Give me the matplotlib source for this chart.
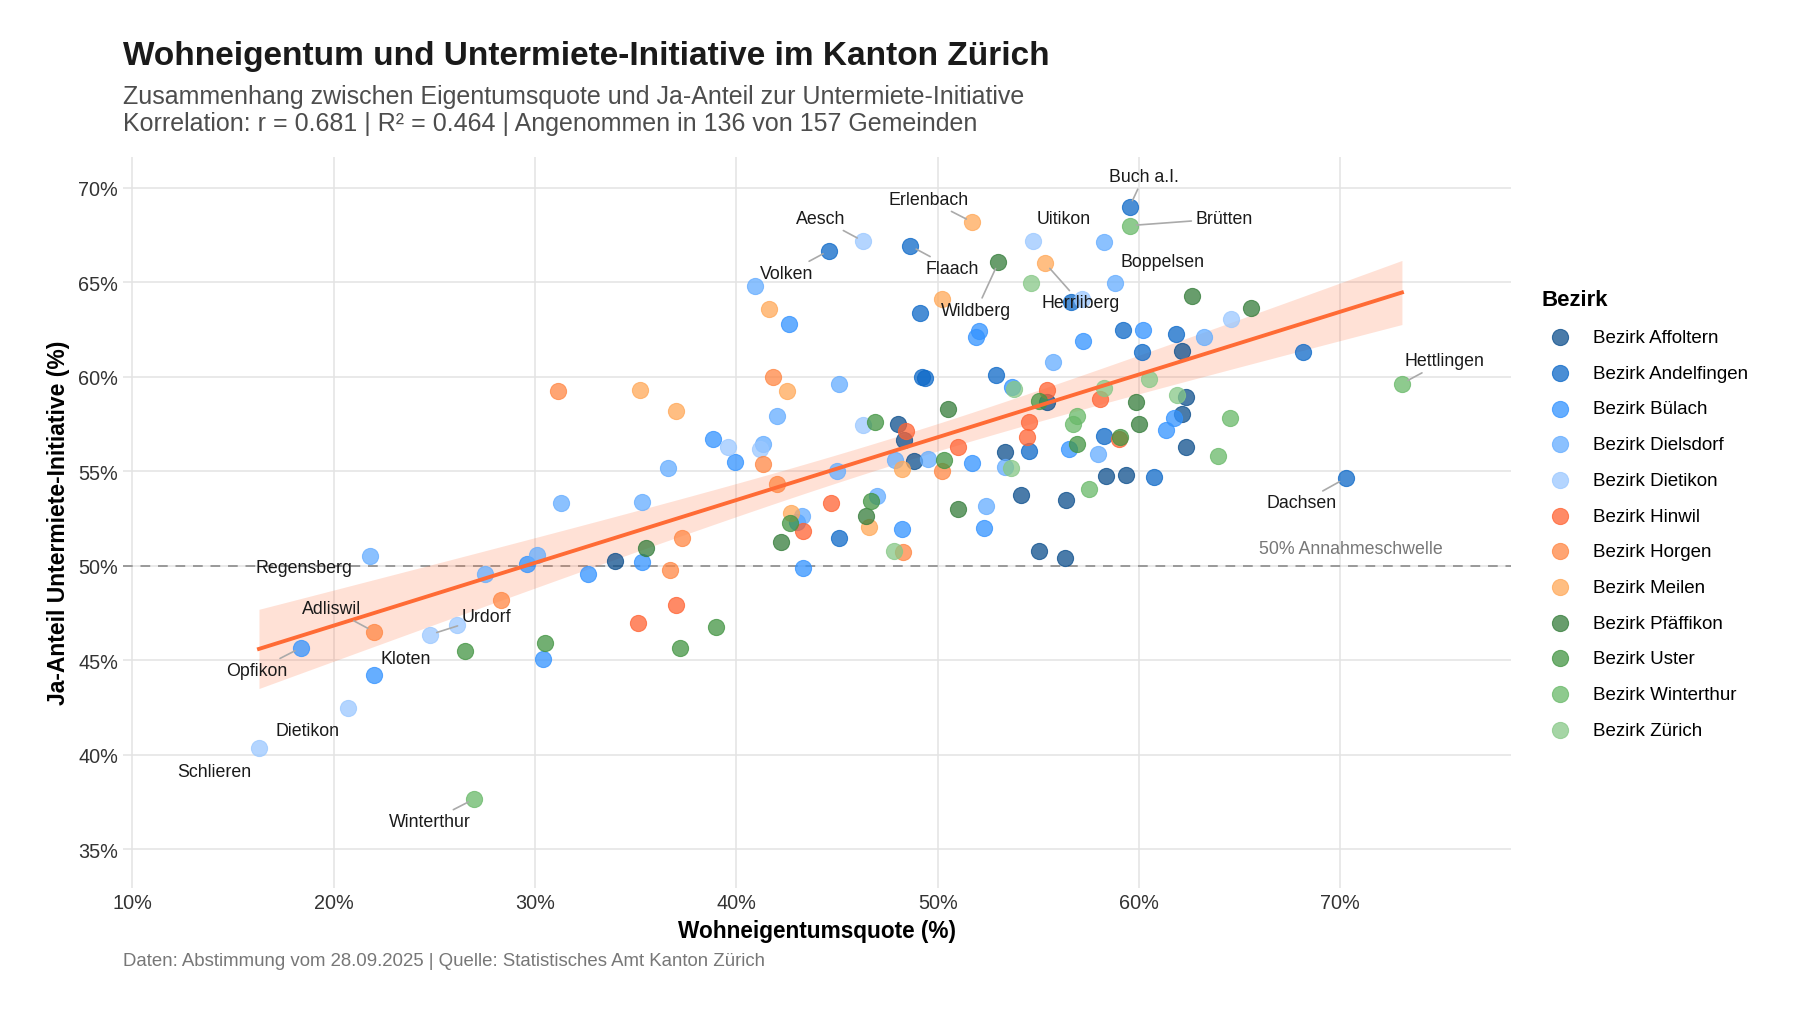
import numpy as np
import matplotlib
matplotlib.use("Agg")
import matplotlib.pyplot as plt

plt.rcParams['font.family'] = ['Liberation Sans', 'DejaVu Sans']

# Bezirke und Farben
bezirke = ["Bezirk Affoltern", "Bezirk Andelfingen", "Bezirk Bülach", "Bezirk Dielsdorf",
           "Bezirk Dietikon", "Bezirk Hinwil", "Bezirk Horgen", "Bezirk Meilen",
           "Bezirk Pfäffikon", "Bezirk Uster", "Bezirk Winterthur", "Bezirk Zürich"]
farben = ["#0D4F8D", "#0D69C8", "#3393FF", "#65ADFF", "#9BC8FF", "#FF6333",
          "#FF8744", "#FFA858", "#357D3B", "#439543", "#69B969", "#87C887"]

# Gemeinden ohne Beschriftung: Eigentumsquote (%), Ja-Anteil (%)
affoltern_x = [33.98, 48.02, 48.34, 48.80, 53.32, 54.13, 55.03, 56.33, 55.42, 56.38, 58.34, 59.33, 62.15, 62.34, 62.15, 62.34]
affoltern_y = [50.26, 57.48, 56.67, 55.56, 56.03, 53.74, 50.76, 50.41, 58.65, 53.49, 54.73, 54.80, 61.33, 58.94, 58.03, 56.30]
andelfingen_x = [49.13, 49.20, 49.35, 52.92, 54.53, 45.12, 56.62, 59.23, 61.85, 60.14, 68.14, 58.24, 60.76]
andelfingen_y = [63.37, 60.00, 59.95, 60.11, 56.08, 51.47, 63.94, 62.49, 62.26, 61.31, 61.31, 56.88, 54.68]
buelach_x = [42.62, 52.03, 51.91, 53.70, 38.83, 39.93, 51.73, 43.00, 43.32, 48.22, 52.32, 35.30, 32.62, 30.40, 60.22, 57.24, 61.72, 61.32, 56.53, 29.59]
buelach_y = [62.80, 62.42, 62.10, 59.46, 56.70, 55.50, 55.43, 52.30, 49.88, 51.94, 51.99, 50.18, 49.56, 45.05, 62.49, 61.87, 57.80, 57.18, 56.17, 50.09]
dielsdorf_x = [40.92, 45.12, 42.01, 41.30, 36.61, 35.29, 45.02, 47.90, 49.54, 53.35, 52.41, 47.01, 43.25, 31.30, 27.52, 30.09, 63.24, 57.94, 58.24, 55.72]
dielsdorf_y = [64.78, 59.63, 57.92, 56.42, 55.15, 53.35, 55.03, 55.61, 55.65, 55.24, 53.17, 53.70, 52.65, 53.32, 49.56, 50.57, 62.08, 55.91, 67.11, 60.76]
dietikon_x = [39.61, 41.18, 46.31, 57.16, 64.55, 26.11]
dietikon_y = [56.28, 56.17, 57.46, 64.11, 63.07, 46.86]
hinwil_x = [48.42, 51.03, 54.55, 54.45, 55.42, 58.04, 44.72, 43.30, 37.00, 35.11, 59.00]
hinwil_y = [57.13, 56.26, 57.59, 56.79, 59.31, 58.82, 53.30, 51.84, 47.92, 46.95, 56.70]
horgen_x = [31.16, 41.81, 41.32, 42.01, 37.31, 36.71, 28.30, 48.30, 50.24]
horgen_y = [59.26, 59.97, 55.37, 54.32, 51.46, 49.77, 48.20, 50.74, 55.01]
meilen_x = [35.22, 37.01, 42.51, 41.61, 50.24, 48.22, 42.70, 46.61]
meilen_y = [59.31, 58.19, 59.26, 63.58, 64.10, 55.12, 52.80, 52.03]
pfaeffikon_x = [50.52, 51.02, 42.21, 46.43, 35.50, 62.64, 65.54, 59.83, 60.02]
pfaeffikon_y = [58.31, 53.00, 51.27, 52.61, 50.94, 64.27, 63.62, 58.64, 57.50]
uster_x = [46.91, 50.32, 46.68, 42.67, 39.01, 37.21, 26.51, 30.50, 55.01, 56.91, 59.05]
uster_y = [57.62, 55.61, 53.44, 52.26, 46.74, 45.63, 45.49, 45.89, 58.73, 56.42, 56.80]
winterthur_x = [56.91, 56.72, 64.53, 63.93, 57.54]
winterthur_y = [57.90, 57.48, 57.80, 55.82, 54.06]
zuerich_x = [54.63, 53.77, 53.64, 47.82, 61.91, 60.52, 58.24]
zuerich_y = [64.96, 59.35, 55.15, 50.78, 59.05, 59.88, 59.40]

# Beschriftete Gemeinden
label_namen = ["Buch a.I.", "Brütten", "Erlenbach", "Aesch", "Uitikon", "Flaach", "Volken",
               "Wildberg", "Herrliberg", "Boppelsen", "Hettlingen", "Dachsen", "Regensberg",
               "Adliswil", "Urdorf", "Opfikon", "Kloten", "Dietikon", "Schlieren", "Winterthur"]
label_bezirk = [1, 10, 7, 4, 4, 1, 1, 8, 7, 3, 10, 1, 3, 6, 4, 2, 2, 4, 4, 10]
label_x = [59.53, 59.53, 51.73, 46.31, 54.73, 48.63, 44.61, 53.02, 55.34, 58.83, 73.06, 70.26,
           21.82, 22.00, 24.79, 18.38, 22.00, 20.70, 16.29, 26.99]
label_y = [68.98, 67.99, 68.17, 67.16, 67.16, 66.92, 66.67, 66.05, 66.00, 64.97, 59.63, 54.62,
           50.53, 46.51, 46.35, 45.66, 44.22, 42.47, 40.36, 37.66]
# Position der Beschriftung relativ zum Punkt
label_dx = [0.7, 4.7, -2.2, -2.1, 1.55, 2.1, -2.1, -1.1, 1.75, 2.35, 2.1, -2.2,
            -3.3, -2.1, 2.8, -2.2, 1.6, -2.0, -2.2, -2.2]
label_dy = [1.6, 0.37, 1.2, 1.2, 1.2, -1.2, -1.2, -2.55, -2.1, 1.1, 1.2, -1.3,
            -0.65, 1.2, 0.95, -1.2, 0.85, -1.2, -1.25, -1.2]
label_linie = [True, True, True, True, False, True, True, True, True, False, True, True,
               False, True, True, True, False, False, False, True]

punkte_x = [affoltern_x, andelfingen_x, buelach_x, dielsdorf_x, dietikon_x, hinwil_x,
            horgen_x, meilen_x, pfaeffikon_x, uster_x, winterthur_x, zuerich_x]
punkte_y = [affoltern_y, andelfingen_y, buelach_y, dielsdorf_y, dietikon_y, hinwil_y,
            horgen_y, meilen_y, pfaeffikon_y, uster_y, winterthur_y, zuerich_y]

fig = plt.figure(figsize=(18, 10.12), dpi=100)
ax = fig.add_axes([0.0686, 0.122, 0.7711, 0.7219])

# Punkte pro Bezirk
for i, name in enumerate(bezirke):
    xs = list(punkte_x[i]) + [label_x[k] for k in range(len(label_x)) if label_bezirk[k] == i]
    ys = list(punkte_y[i]) + [label_y[k] for k in range(len(label_y)) if label_bezirk[k] == i]
    ax.scatter(xs, ys, s=135, color=farben[i], alpha=0.75, edgecolors=farben[i],
               linewidths=0.8, zorder=4, label=name)

# Regressionsgerade mit 95%-Band
alle_x = np.array(sum([list(v) for v in punkte_x], []) + label_x)
alle_y = np.array(sum([list(v) for v in punkte_y], []) + label_y)
n = len(alle_x)
b, a = np.polyfit(alle_x, alle_y, 1)
xx = np.linspace(alle_x.min(), alle_x.max(), 200)
yy = a + b * xx
resid = alle_y - (a + b * alle_x)
s = np.sqrt(np.sum(resid ** 2) / (n - 2))
se = s * np.sqrt(1 / n + (xx - alle_x.mean()) ** 2 / np.sum((alle_x - alle_x.mean()) ** 2))
ax.fill_between(xx, yy - 1.975 * se, yy + 1.975 * se, color="#FF6B35", alpha=0.2,
                linewidth=0, zorder=3)
ax.plot(xx, yy, color="#FF6B35", lw=2.8, zorder=5)

# 50%-Schwelle
ax.axhline(50, color="#999999", lw=1.4, ls=(0, (5, 4)), zorder=2)
ax.text(70.5, 50.45, "50% Annahmeschwelle", color="#777777", fontsize=12.8,
        ha="center", va="bottom")

# Beschriftungen
for k, name in enumerate(label_namen):
    props = None
    if label_linie[k]:
        props = dict(arrowstyle="-", color="#AAAAAA", lw=1.2, shrinkA=1, shrinkB=5)
    ax.annotate(name, xy=(label_x[k], label_y[k]),
                xytext=(label_x[k] + label_dx[k], label_y[k] + label_dy[k]),
                ha="center", va="center", fontsize=12.8, color="#1a1a1a",
                arrowprops=props, zorder=6)

ax.set_xlim(9.56, 78.5)
ax.set_ylim(32.97, 71.62)
ax.set_xticks([10, 20, 30, 40, 50, 60, 70])
ax.set_xticklabels([f"{t}%" for t in [10, 20, 30, 40, 50, 60, 70]])
ax.set_yticks([35, 40, 45, 50, 55, 60, 65, 70])
ax.set_yticklabels([f"{t}%" for t in [35, 40, 45, 50, 55, 60, 65, 70]])
ax.tick_params(length=0, labelsize=14.3, labelcolor="#333333", pad=4)
ax.grid(True, color="#E3E3E3", lw=1.1)
ax.set_axisbelow(True)
for sp in ax.spines.values():
    sp.set_visible(False)

ax.set_xlabel("Wohneigentumsquote (%)", fontsize=16.3, fontweight="bold", labelpad=5)
ax.set_ylabel("Ja-Anteil Untermiete-Initiative (%)", fontsize=16.5, fontweight="bold", labelpad=6)

leg = ax.legend(title="Bezirk", loc="upper left", bbox_to_anchor=(1532 / 1800, 1 - 281 / 1012),
                bbox_transform=fig.transFigure, frameon=False, fontsize=13.5,
                title_fontproperties={"weight": "bold", "size": 16},
                labelspacing=0.99, handletextpad=0.75, markerscale=1.0, borderpad=0)
leg._legend_box.align = "left"
for h in leg.legend_handles:
    h.set_alpha(0.75)

fig.text(123 / 1800, 1 - 57 / 1012, "Wohneigentum und Untermiete-Initiative im Kanton Zürich",
         fontsize=24, fontweight="bold", color="#1a1a1a", va="center")
fig.text(123 / 1800, 1 - 97 / 1012,
         "Zusammenhang zwischen Eigentumsquote und Ja-Anteil zur Untermiete-Initiative",
         fontsize=18, color="#4d4d4d", va="center")
fig.text(123 / 1800, 1 - 124 / 1012,
         "Korrelation: r = 0.681 | R² = 0.464 | Angenommen in 136 von 157 Gemeinden",
         fontsize=18, color="#4d4d4d", va="center")
fig.text(123 / 1800, 1 - 962 / 1012,
         "Daten: Abstimmung vom 28.09.2025 | Quelle: Statistisches Amt Kanton Zürich",
         fontsize=13.4, color="#777777", va="center")

fig.savefig("out.png", dpi=100)
